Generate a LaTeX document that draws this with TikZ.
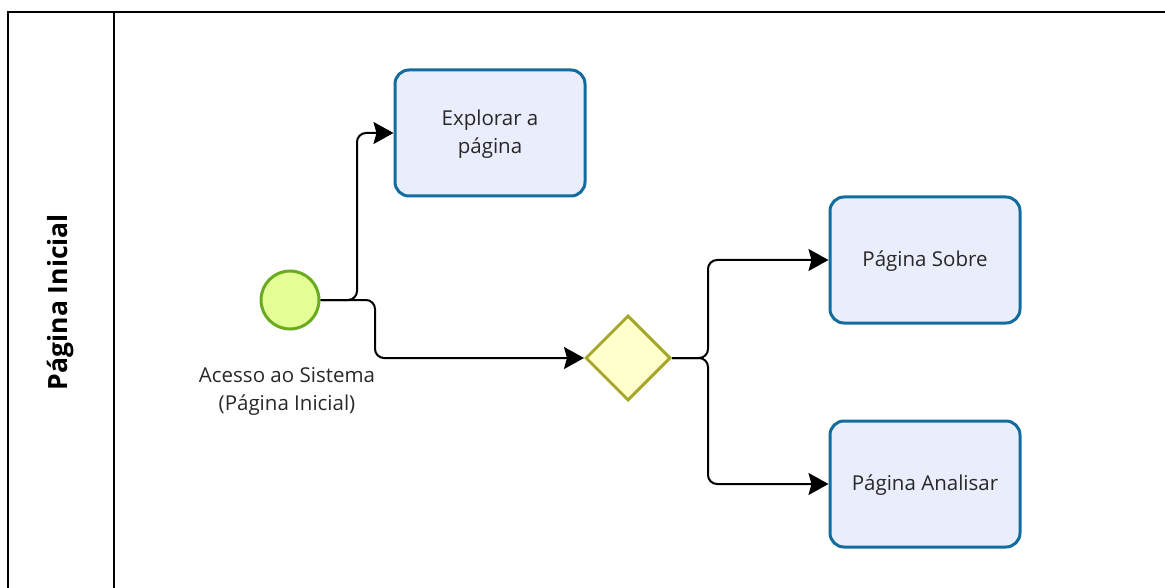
\documentclass[tikz,border=0pt]{standalone}
\usepackage{fontspec}
\setmainfont{Open Sans}
\usetikzlibrary{arrows.meta,shapes.geometric}
\definecolor{taskfill}{RGB}{234,237,252}
\definecolor{taskline}{RGB}{18,108,158}
\definecolor{startfill}{RGB}{228,255,150}
\definecolor{startline}{RGB}{106,170,30}
\definecolor{gwfill}{RGB}{255,255,204}
\definecolor{gwline}{RGB}{166,166,40}
\definecolor{txt}{RGB}{40,40,40}
\tikzset{
  frame/.style={line width=2.5pt, black},
  task/.style={draw=taskline, fill=taskfill, line width=3pt, rounded corners=14pt,
    minimum width=190pt, minimum height=126pt, align=center, text=txt,
    font=\fontsize{20.5}{28}\selectfont, text depth=3pt},
  startev/.style={circle, draw=startline, fill=startfill, line width=3pt,
    minimum size=58pt, inner sep=0pt},
  gateway/.style={diamond, draw=gwline, fill=gwfill, line width=3pt,
    minimum width=85pt, minimum height=85pt, inner sep=0pt},
  evlabel/.style={align=center, text=txt, font=\fontsize{20.5}{28}\selectfont},
  flow/.style={line width=2pt, rounded corners=9pt,
    -{Stealth[length=20pt, width=22pt, inset=3pt]}},
}
\begin{document}
\begin{tikzpicture}[x=1pt, y=-1pt]
  \useasboundingbox (0,0) rectangle (1165,588);
  % pool frame and lane header
  \draw[frame] (8,600) -- (8,12) -- (1170,12);
  \draw[frame] (114,12) -- (114,600);
  \node[rotate=90, font=\fontsize{26.5}{30}\selectfont\bfseries] (lane) at (61,302) {Página Inicial};
  % flow elements
  \node[startev] (start) at (290,300) {};
  \node[evlabel, anchor=north] (startlbl) at (287,364) {Acesso ao Sistema\\(Página Inicial)};
  \node[task] (explorar) at (490,133) {Explorar a\\página};
  \node[gateway] (gw) at (628,358) {};
  \node[task] (sobre) at (925,260) {Página Sobre};
  \node[task] (analisar) at (925,484) {Página Analisar};
  % sequence flows
  \coordinate (j1) at (357,300);
  \coordinate (j2) at (375,300);
  \coordinate (j3) at (708,358);
  \draw[flow] (start.east) -- (j1) |- (explorar.west);
  \draw[flow] (start.east) -- (j2) |- (gw.west);
  \draw[flow] (gw.east) -- (j3) |- (sobre.west);
  \draw[flow] (gw.east) -- (j3) |- (analisar.west);
\end{tikzpicture}
\end{document}
